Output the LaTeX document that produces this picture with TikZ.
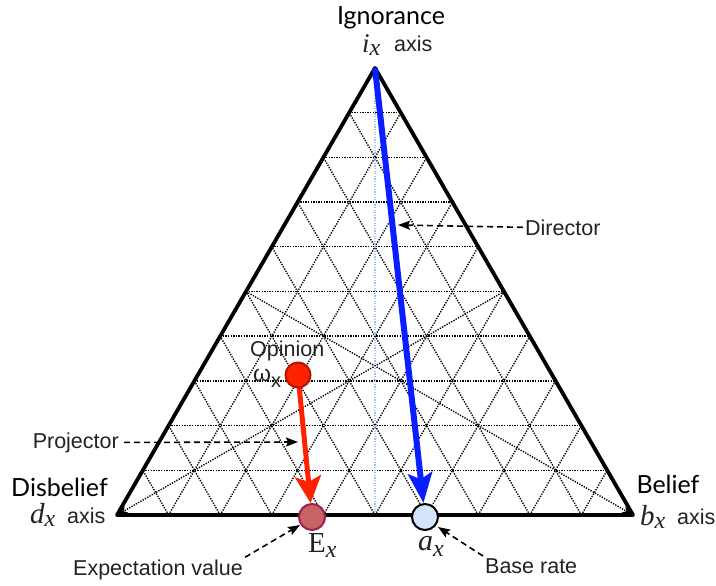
\documentclass[tikz,border=0pt]{standalone}
\usepackage{fontspec}
\setmainfont{Liberation Sans}
\newfontfamily\gill{Lato}
\newfontfamily\helv{Liberation Sans}
\newfontfamily\tms{Liberation Serif}
\usetikzlibrary{calc,arrows.meta}
\pgfdeclarelayer{bg}
\pgfsetlayers{bg,main}
\definecolor{blueArrow}{HTML}{0A1EFF}
\definecolor{redArrow}{HTML}{FF2200}
\definecolor{opLine}{HTML}{B01800}
\definecolor{exFill}{HTML}{C86464}
\definecolor{exLine}{HTML}{9A1E5A}
\definecolor{axFill}{HTML}{D4E4FA}
\definecolor{vaxis}{HTML}{9CC0E8}
\definecolor{txt}{HTML}{222222}
\begin{document}
\begin{tikzpicture}[x=1pt,y=-1pt,
  gridline/.style={black, line width=1.4pt, dash pattern=on 1.3pt off 1.3pt},
  axisline/.style={black, line width=1.4pt, dash pattern=on 1.3pt off 1.3pt, -{Stealth[length=11pt,width=7pt]}},
  border/.style={black, line width=3.8pt, line join=round},
  bigtxt/.style={font=\gill\fontsize{25}{25}\selectfont, inner sep=0pt},
  smalltxt/.style={font=\helv\fontsize{21.5}{21.5}\selectfont, text=txt, inner sep=2pt},
  mathtxt/.style={inner sep=0pt, anchor=base west, text=txt},
  callout/.style={black, line width=1.6pt, dash pattern=on 6pt off 4pt, -{Stealth[length=12pt,width=9pt,inset=2pt]}},
  dot/.style={circle, inner sep=0pt, line width=2pt}
]
% frame
\begin{pgfonlayer}{bg}
\fill[white] (0,0) rectangle (716,586);
\end{pgfonlayer}
\useasboundingbox (0,0) rectangle (716,586);

\coordinate (A) at (375,68);
\coordinate (L) at (117,515);
\coordinate (R) at (633,515);
\coordinate (M) at ($(L)!0.5!(R)$);
\coordinate (ML) at ($(A)!0.5!(L)$);
\coordinate (MR) at ($(A)!0.5!(R)$);

% circles
\node[dot, minimum size=25pt, fill=redArrow, draw=opLine] (op) at (298,375) {};
\node[dot, minimum size=26pt, fill=exFill, draw=exLine] (ex) at (312,517) {};
\node[dot, minimum size=26pt, fill=axFill, draw=black] (ax) at (425,517) {};

\begin{pgfonlayer}{bg}
% grid
\foreach \k in {1,...,9}{
  \draw[gridline] ($(A)!\k/10!(L)$) -- ($(A)!\k/10!(R)$);
  \draw[gridline] ($(L)!\k/10!(R)$) -- ($(A)!\k/10!(R)$);
  \draw[gridline] ($(L)!\k/10!(R)$) -- ($(L)!\k/10!(A)$);
}
% axes
\draw[axisline] (MR) -- (L);
\draw[axisline] (ML) -- (R);
\draw[vaxis, line width=1.4pt, dash pattern=on 1.3pt off 1.3pt, -{Stealth[length=11pt,width=7pt]}] (M) -- (A);
% border
\draw[border] (A) -- (L) -- (R) -- cycle;
% director and projector
\draw[blueArrow, line width=6pt, -{Stealth[length=30pt,width=24pt,inset=6pt]}] (A) -- (ax);
\draw[redArrow, line width=5pt, -{Stealth[length=27pt,width=26pt,inset=6pt]}] (op.center) -- (ex);
\end{pgfonlayer}

% vertex labels
\node[bigtxt, anchor=base] (ign) at (391,25) {Ignorance};
\node[mathtxt] (ix) at (362,53) {{\tms\itshape\fontsize{27}{27}\selectfont i}\raisebox{-3pt}{\tms\itshape\fontsize{24}{24}\selectfont x}};
\node[smalltxt, inner sep=0pt, anchor=base west] (iax) at (394,52) {axis};

\node[bigtxt, anchor=base] (dis) at (59.5,496) {Disbelief};
\node[mathtxt] (dx) at (30,523) {{\tms\itshape\fontsize{29}{29}\selectfont d}\raisebox{-3pt}{\tms\itshape\fontsize{24}{24}\selectfont x}};
\node[smalltxt, inner sep=0pt, anchor=base west] (dax) at (67,523) {axis};

\node[bigtxt, anchor=base] (bel) at (668,493) {Belief};
\node[mathtxt] (bx) at (640,525) {{\tms\itshape\fontsize{29}{29}\selectfont b}\raisebox{-3pt}{\tms\itshape\fontsize{24}{24}\selectfont x}};
\node[smalltxt, inner sep=0pt, anchor=base west] (bax) at (677,524) {axis};

% point labels
\node[mathtxt] (exl) at (308,552) {{\tms\fontsize{29}{29}\selectfont E}\raisebox{-5pt}{\tms\itshape\fontsize{24}{24}\selectfont x}};
\node[mathtxt] (axl) at (418,550) {{\tms\itshape\fontsize{30}{30}\selectfont a}\raisebox{-6pt}{\tms\itshape\fontsize{24}{24}\selectfont x}};
\node[smalltxt, inner sep=0pt, anchor=base west] (opl) at (250,356) {Opinion};
\node[mathtxt] (oml) at (253,381) {{\helv\fontsize{23}{23}\selectfont ω}\raisebox{-6pt}{\helv\fontsize{20}{20}\selectfont x}};

% callouts
\node[smalltxt, anchor=base west] (dir) at (523,235) {Director};
\coordinate (dirtip) at (398,225);
\draw[callout] (dir.west) -- (dirtip);

\node[smalltxt, anchor=base east, inner xsep=5pt] (proj) at (124,448) {Projector};
\coordinate (projtip) at (298,442);
\draw[callout] (proj.east) -- (projtip);

\node[smalltxt, anchor=base west] (ev) at (71,575) {Expectation value};
\coordinate (evtip) at (300,525);
\draw[callout] (ev.north east) -- (evtip);

\node[smalltxt, anchor=base west] (br) at (483,573) {Base rate};
\coordinate (brtip) at (438,527);
\draw[callout] (br.north west) -- (brtip);
\end{tikzpicture}
\end{document}
